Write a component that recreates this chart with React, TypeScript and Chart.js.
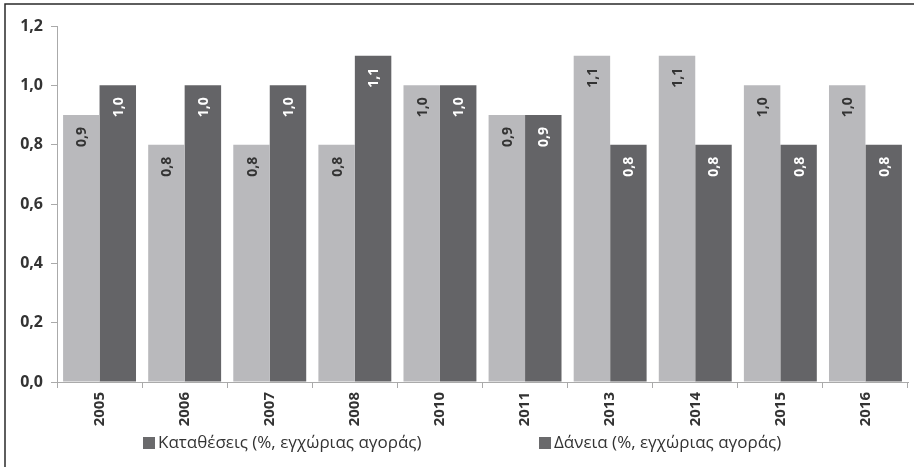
import React, { useEffect, useRef } from "react";
import { Chart, registerables } from "chart.js";

Chart.register(...registerables);

const categories = ["2005", "2006", "2007", "2008", "2010", "2011", "2013", "2014", "2015", "2016"];
const depositsLabel = "Καταθέσεις (%, εγχώριας αγοράς)";
const loansLabel = "Δάνεια (%, εγχώριας αγοράς)";
const deposits = [0.9, 0.8, 0.8, 0.8, 1.0, 0.9, 1.1, 1.1, 1.0, 1.0];
const loans = [1.0, 1.0, 1.0, 1.1, 1.0, 0.9, 0.8, 0.8, 0.8, 0.8];
const yTicks = [0, 0.2, 0.4, 0.6, 0.8, 1.0, 1.2];

const LIGHT = "#b9b9bc";
const DARK = "#646467";
const FONT = "'Open Sans', 'DejaVu Sans', sans-serif";

const fmt = (v: number) => v.toFixed(1).replace(".", ",");

const valueLabelPlugin = {
  id: "valueLabels",
  afterDatasetsDraw(chart: any) {
    const ctx = chart.ctx;
    ctx.save();
    ctx.font = `bold 14px ${FONT}`;
    chart.data.datasets.forEach((ds: any, di: number) => {
      const meta = chart.getDatasetMeta(di);
      meta.data.forEach((bar: any, i: number) => {
        const v = ds.data[i];
        ctx.save();
        ctx.translate(bar.x, bar.y + 12);
        ctx.rotate(-Math.PI / 2);
        ctx.textAlign = "right";
        ctx.textBaseline = "middle";
        ctx.fillStyle = di === 0 ? "#333333" : "#ffffff";
        ctx.fillText(fmt(v), 0, 1);
        ctx.restore();
      });
    });
    ctx.restore();
  },
};

const frameLegendPlugin = {
  id: "frameLegend",
  afterDraw(chart: any) {
    const ctx = chart.ctx;
    ctx.save();
    ctx.strokeStyle = "#2a2a2a";
    ctx.lineWidth = 1.5;
    ctx.beginPath();
    ctx.moveTo(5, 467);
    ctx.lineTo(5, 4);
    ctx.lineTo(914, 4);
    ctx.stroke();
    const items = [
      { x: 143, label: depositsLabel },
      { x: 539, label: loansLabel },
    ];
    ctx.font = `17px ${FONT}`;
    ctx.textBaseline = "middle";
    ctx.textAlign = "left";
    items.forEach((it) => {
      ctx.fillStyle = "#6a6a6c";
      ctx.fillRect(it.x, 437, 12, 12);
      ctx.fillStyle = "#333333";
      ctx.fillText(it.label, it.x + 15, 443);
    });
    ctx.restore();
  },
};

export default function App() {
  const ref = useRef<HTMLCanvasElement | null>(null);
  useEffect(() => {
    document.body.style.margin = "0";
    const chart = new Chart(ref.current as HTMLCanvasElement, {
      type: "bar",
      data: {
        labels: categories,
        datasets: [
          { label: depositsLabel, data: deposits, backgroundColor: LIGHT, categoryPercentage: 0.857, barPercentage: 1.0 },
          { label: loansLabel, data: loans, backgroundColor: DARK, categoryPercentage: 0.857, barPercentage: 1.0 },
        ],
      },
      options: {
        responsive: false,
        animation: false,
        devicePixelRatio: 1,
        layout: { padding: { left: 0, top: 26, right: 6, bottom: 35 } },
        plugins: {
          legend: { display: false },
          tooltip: { enabled: false },
        },
        scales: {
          x: {
            offset: true,
            grid: { display: true, offset: true, drawOnChartArea: false, drawTicks: true, tickLength: 6, color: "#aaaaaa" },
            border: { display: true, color: "#aaaaaa" },
            ticks: {
              minRotation: 90,
              maxRotation: 90,
              padding: 4,
              color: "#333333",
              font: { family: FONT, size: 15, weight: "bold" },
            },
            afterFit(scale: any) {
              scale.height = 50;
            },
          },
          y: {
            min: 0,
            max: 1.2,
            afterBuildTicks(scale: any) {
              scale.ticks = yTicks.map((v) => ({ value: v }));
            },
            grid: { display: true, drawOnChartArea: false, drawTicks: true, tickLength: 6, color: "#aaaaaa" },
            border: { display: true, color: "#aaaaaa" },
            ticks: {
              padding: 8,
              color: "#333333",
              font: { family: FONT, size: 16, weight: "bold" },
              callback: (v: any) => fmt(Number(v)),
            },
            afterFit(scale: any) {
              scale.width = 57;
            },
          },
        },
      },
      plugins: [valueLabelPlugin, frameLegendPlugin],
    } as any);
    return () => chart.destroy();
  }, []);
  return (
    <div style={{ position: "absolute", left: 0, top: 0, width: 914, height: 467, background: "#fff" }}>
      <canvas ref={ref} width={914} height={467} style={{ display: "block", width: 914, height: 467 }} />
    </div>
  );
}
